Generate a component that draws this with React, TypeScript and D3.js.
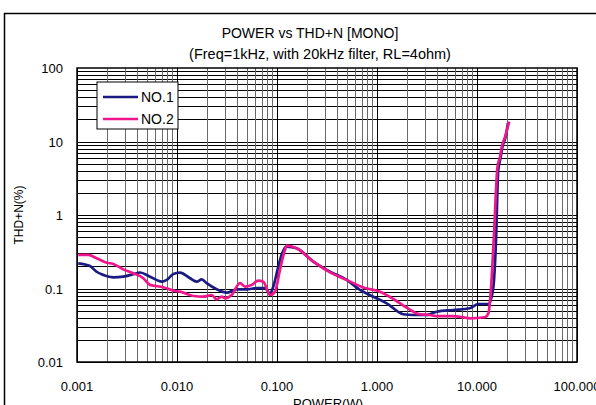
import * as d3 from 'd3';

// POWER (W) / THD+N (%)
const no1Power = [0.00103, 0.00135, 0.00157, 0.00183, 0.00231, 0.0029, 0.00366, 0.00427, 0.00537, 0.00703, 0.00789, 0.00919, 0.0107, 0.0135, 0.0157, 0.0177, 0.0198, 0.0249, 0.0314, 0.0395, 0.0498, 0.0627, 0.0759, 0.0851, 0.0918, 0.103, 0.111, 0.125, 0.157, 0.231, 0.339, 0.498, 0.676, 0.919, 1.25, 1.83, 2.31, 3.14, 3.95, 5.79, 8.51, 10.3, 13.0, 14.0, 14.8, 15.5, 16.3, 17.2, 17.9, 19.3, 20.4];
const no1Thd = [0.22, 0.202, 0.169, 0.153, 0.142, 0.145, 0.156, 0.165, 0.145, 0.124, 0.131, 0.157, 0.164, 0.138, 0.124, 0.133, 0.118, 0.0976, 0.0877, 0.0976, 0.0976, 0.101, 0.101, 0.0861, 0.106, 0.198, 0.286, 0.371, 0.352, 0.232, 0.169, 0.131, 0.0955, 0.0773, 0.0629, 0.0446, 0.0436, 0.0436, 0.0483, 0.051, 0.0538, 0.0615, 0.0615, 0.0773, 0.131, 0.457, 4.0, 6.0, 8.3, 11.5, 17.8];

const no2Power = [0.00103, 0.0013, 0.00157, 0.00198, 0.00231, 0.0029, 0.00366, 0.0046, 0.00537, 0.0073, 0.00919, 0.0107, 0.0146, 0.0183, 0.0222, 0.0249, 0.028, 0.0302, 0.0352, 0.0427, 0.0479, 0.0558, 0.065, 0.073, 0.0851, 0.0955, 0.107, 0.12, 0.125, 0.157, 0.231, 0.339, 0.498, 0.733, 1.07, 1.46, 1.98, 2.69, 3.39, 3.95, 5.79, 8.51, 12.0, 13.0, 13.7, 14.8, 16.0, 17.0, 17.7, 19.1, 21.0];
const no2Thd = [0.286, 0.286, 0.258, 0.224, 0.216, 0.182, 0.161, 0.138, 0.112, 0.104, 0.0934, 0.0905, 0.0791, 0.0773, 0.0816, 0.0713, 0.0773, 0.0736, 0.0816, 0.118, 0.106, 0.112, 0.128, 0.124, 0.0816, 0.0905, 0.179, 0.334, 0.382, 0.352, 0.232, 0.166, 0.131, 0.103, 0.0905, 0.072, 0.0548, 0.0446, 0.0436, 0.0422, 0.0422, 0.0393, 0.0406, 0.046, 0.0861, 0.564, 4.41, 6.21, 8.49, 11.6, 18.6];

const xTicks = [0.001, 0.01, 0.1, 1, 10, 100];
const xTickLabels = ['0.001', '0.010', '0.100', '1.000', '10.000', '100.000'];
const yTicks = [0.01, 0.1, 1, 10, 100];
const yTickLabels = ['0.01', '0.1', '1', '10', '100'];

const seriesNames = ['NO.1', 'NO.2'];
const seriesColors = ['#1b1a82', '#f0158c'];

const FONT = '"Liberation Sans", Arial, sans-serif';

export default function App() {
  const width = 596;
  const height = 405;
  const left = 77, right = 577, top = 68, bottom = 362;

  const x = d3.scaleLog().domain([0.001, 100]).range([left, right]);
  const y = d3.scaleLog().domain([0.01, 100]).range([bottom, top]);

  // gridline positions: 1..9 in every decade
  const xMinor: number[] = [];
  for (let e = -3; e < 2; e++) for (let k = 2; k <= 9; k++) xMinor.push(k * Math.pow(10, e));
  const yAll: number[] = [];
  for (let e = -2; e < 2; e++) for (let k = 1; k <= 9; k++) yAll.push(k * Math.pow(10, e));

  const line = d3.line<[number, number]>()
    .x(d => x(d[0]))
    .y(d => y(d[1]))
    .curve(d3.curveMonotoneX);

  const series = [
    no1Power.map((p, i) => [p, no1Thd[i]] as [number, number]),
    no2Power.map((p, i) => [p, no2Thd[i]] as [number, number]),
  ];

  return (
    <svg width={width} height={height} style={{ position: 'absolute', left: 0, top: 0, background: '#fff' }} fontFamily={FONT}>
      <rect x={4.5} y={13.5} width={620} height={420} fill="#fff" stroke="#000" strokeWidth={1.5} />

      <text x={310} y={38} textAnchor="middle" fontSize={14}>POWER vs THD+N [MONO]</text>
      <text x={320} y={59} textAnchor="middle" fontSize={14.5}>(Freq=1kHz, with 20kHz filter, RL=4ohm)</text>

      {/* grid */}
      {yAll.map(v => (
        <line key={'h' + v} x1={left} x2={right} y1={Math.round(y(v)) + 0.5} y2={Math.round(y(v)) + 0.5} stroke="#000" strokeWidth={1} />
      ))}
      {xMinor.map(v => (
        <line key={'v' + v} x1={Math.round(x(v)) + 0.5} x2={Math.round(x(v)) + 0.5} y1={top} y2={bottom} stroke="#6a6a6a" strokeWidth={1} />
      ))}
      {xTicks.map(v => (
        <line key={'V' + v} x1={Math.round(x(v)) + 0.5} x2={Math.round(x(v)) + 0.5} y1={top} y2={bottom} stroke="#000" strokeWidth={1} />
      ))}
      <rect x={left} y={top} width={right - left} height={bottom - top} fill="none" stroke="#000" strokeWidth={1.5} />

      {/* tick labels */}
      {yTicks.map((v, i) => (
        <text key={'yl' + v} x={63} y={y(v) + 5} textAnchor="end" fontSize={13}>{yTickLabels[i]}</text>
      ))}
      {xTicks.map((v, i) => (
        <text key={'xl' + v} x={x(v)} y={391} textAnchor="middle" fontSize={13}>{xTickLabels[i]}</text>
      ))}

      <text transform="translate(23,215) rotate(-90)" textAnchor="middle" fontSize={12}>THD+N(%)</text>
      <text x={328} y={408} textAnchor="middle" fontSize={13}>POWER(W)</text>

      {/* curves */}
      {series.map((s, i) => (
        <path key={seriesNames[i]} d={line(s) || ''} fill="none" stroke={seriesColors[i]} strokeWidth={2.7} strokeLinejoin="round" />
      ))}

      {/* legend */}
      <rect x={97} y={82} width={81} height={47} fill="#fff" stroke="#000" strokeWidth={1} />
      {seriesNames.map((n, i) => (
        <g key={'lg' + n}>
          <line x1={103} x2={138} y1={97 + i * 22} y2={97 + i * 22} stroke={seriesColors[i]} strokeWidth={2.7} />
          <text x={141} y={102 + i * 22} fontSize={14}>{n}</text>
        </g>
      ))}
    </svg>
  );
}
